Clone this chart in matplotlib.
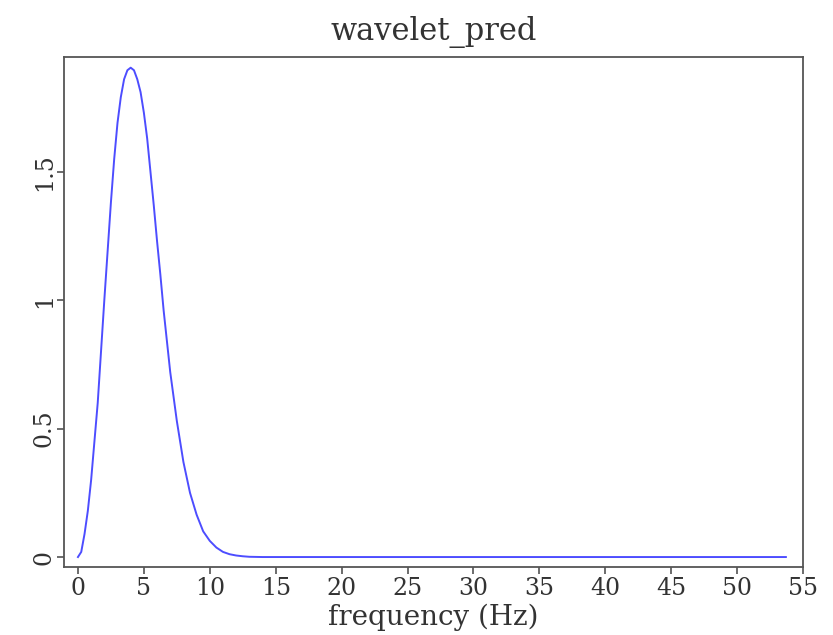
import matplotlib
matplotlib.use("Agg")
import matplotlib.pyplot as plt

# frequency samples (Hz) and amplitude
freq = [0.0, 0.25, 0.5, 0.75, 1.0, 1.25, 1.5, 1.75, 2.0, 2.25, 2.5, 2.75,
        3.0, 3.25, 3.5, 3.75, 4.0, 4.25, 4.5, 4.75, 5.0, 5.25, 5.5, 5.75,
        6.0, 6.25, 6.5, 6.75, 7.0, 7.5, 8.0, 8.5, 9.0, 9.5, 10.0, 10.5,
        11.0, 11.5, 12.0, 12.5, 13.0, 14.0, 20.0, 30.0, 40.0, 53.7]
amp = [0.0, 0.02, 0.09, 0.18, 0.30, 0.45, 0.60, 0.80, 1.00, 1.19, 1.38, 1.55,
       1.69, 1.79, 1.86, 1.895, 1.905, 1.895, 1.86, 1.81, 1.73, 1.63, 1.50, 1.37,
       1.23, 1.10, 0.96, 0.84, 0.72, 0.53, 0.37, 0.25, 0.165, 0.10, 0.063, 0.037,
       0.020, 0.011, 0.006, 0.003, 0.001, 0.0, 0.0, 0.0, 0.0, 0.0]

xticks = [0, 5, 10, 15, 20, 25, 30, 35, 40, 45, 50, 55]
yticks = [0, 0.5, 1, 1.5]
ytick_labels = ["0", "0.5", "1", "1.5"]

plt.rcParams["font.family"] = ["DejaVu Serif"]

fig = plt.figure(figsize=(8.33, 6.35), dpi=100)
ax = fig.add_axes([0.0768, 0.107, 0.8872, 0.803])

ax.plot(freq, amp, color="#4d4dff", linewidth=1.4)

ax.set_xlim(-1.06, 55)
ax.set_ylim(-0.039, 1.946)
ax.set_xticks(xticks)
ax.set_yticks(yticks)
ax.set_yticklabels(ytick_labels, rotation=90, va="center")

ax.tick_params(direction="out", length=5, width=1.1, colors="#444444",
               labelsize=17, labelcolor="#333333")
ax.tick_params(axis="x", pad=2)
ax.tick_params(axis="y", pad=1)
for sp in ax.spines.values():
    sp.set_color("#555555")
    sp.set_linewidth(1.3)

ax.set_title("wavelet_pred", fontsize=22, pad=12, color="#333333")
ax.set_xlabel("frequency (Hz)", fontsize=20, labelpad=3, color="#333333")

fig.savefig("out.png", dpi=100)
